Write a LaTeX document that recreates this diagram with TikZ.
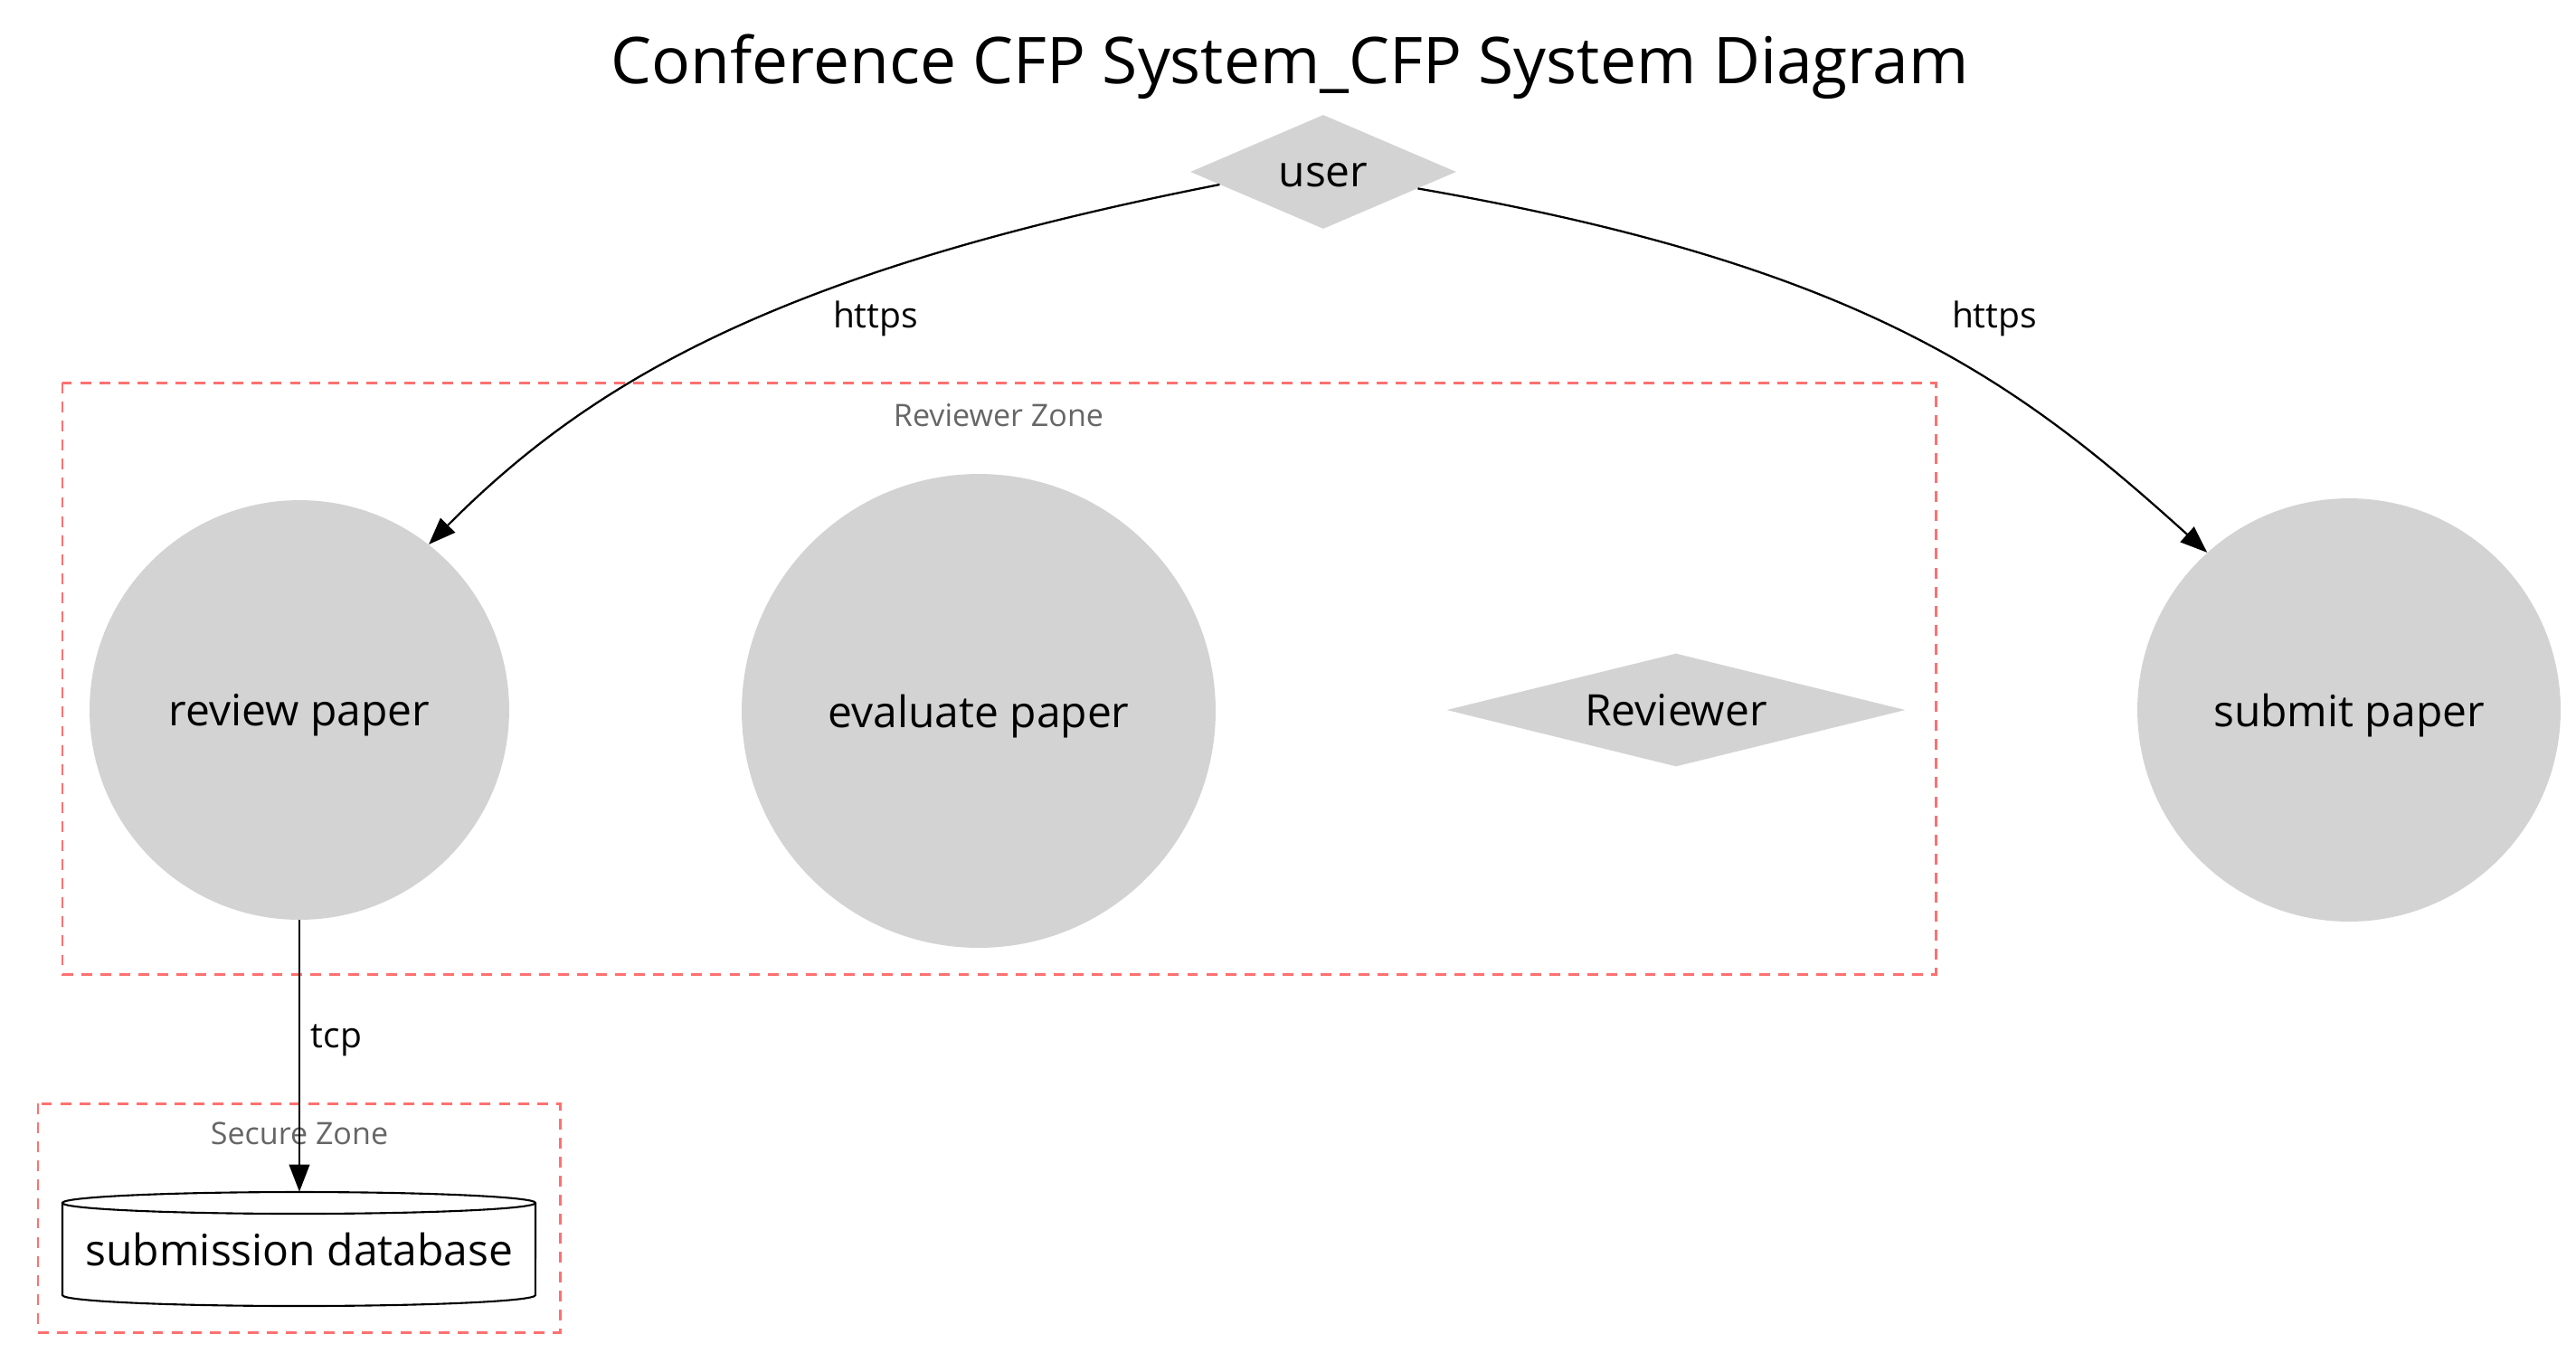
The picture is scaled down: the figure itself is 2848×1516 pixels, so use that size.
\documentclass[tikz,border=0pt]{standalone}
\usepackage{fontspec}
\setmainfont{Open Sans}
\usetikzlibrary{shapes.geometric,arrows.meta}
\definecolor{nodegray}{HTML}{D3D3D3}
\definecolor{zonered}{HTML}{FF7070}
\definecolor{zonetext}{HTML}{666666}
\tikzset{
  proc/.style={circle,fill=nodegray,draw=none,inner sep=0pt,text depth=0pt,font=\fontsize{27.3}{30}\selectfont},
  actor/.style={diamond,fill=nodegray,draw=none,inner sep=0pt,aspect=3,font=\fontsize{27.3}{30}\selectfont},
  zone/.style={draw=zonered,line width=1.7pt,dash pattern=on 6.8pt off 5.2pt},
  zonelabel/.style={text=zonetext,font=\fontsize{19.4}{22}\selectfont},
  elabel/.style={font=\fontsize{22.2}{25}\selectfont},
  arr/.style={draw=black,line width=1.3pt,-{Triangle[length=0.6cm,width=0.45cm]}}
}
\begin{document}
\begin{tikzpicture}[x=0.02cm,y=0.02cm]
\useasboundingbox (0,0) rectangle (2848,-1516);
% title
\node[font=\fontsize{40.6}{44}\selectfont] (title) at (1426,-74) {Conference CFP System\_CFP System Diagram};
% zones
\draw[zone] (69,-423) rectangle (2140,-1077);
\node[zonelabel] (rzlabel) at (1104,-459) {Reviewer Zone};
\draw[zone] (42,-1220) rectangle (619,-1473);
% database cylinder
\draw[fill=white,draw=black,line width=1.2pt] (69,-1330) -- (69,-1432) arc[start angle=180,end angle=360,x radius=5.23cm,y radius=0.24cm] -- (592,-1330) arc[start angle=0,end angle=180,x radius=5.23cm,y radius=0.24cm] -- cycle;
\draw[draw=black,line width=1.2pt] (69,-1330) arc[start angle=180,end angle=360,x radius=5.23cm,y radius=0.24cm];
\node[inner sep=0pt,minimum width=10.46cm,minimum height=2.52cm,font=\fontsize{27.3}{30}\selectfont] (db) at (331,-1381) {\raisebox{-0.35cm}{submission database}};
\node[zonelabel] (szlabel) at (331,-1253) {Secure Zone};
% nodes
\node[actor,minimum width=5.88cm,minimum height=2.52cm,text height=18.8pt,text depth=0pt] (user) at (1463,-190) {user};
\node[proc,minimum size=9.28cm] (review) at (331,-785) {review paper};
\node[proc,minimum size=10.48cm] (evaluate) at (1082,-786) {evaluate paper};
\node[actor,minimum width=10.14cm,minimum height=2.5cm] (reviewer) at (1853,-785) {Reviewer};
\node[proc,minimum size=9.36cm] (submit) at (2597,-785) {submit paper};
% edges
\draw[arr] (user.187.6) .. controls (860,-300) and (653,-422) .. (review.52);
\draw[arr] (user.-10) .. controls (2061,-294) and (2231,-422) .. (submit.132);
\draw[arr] (review.south) -- (db.north);
% edge labels
\node[elabel] (l1) at (968,-352) {https};
\node[elabel] (l2) at (2205,-352) {https};
\node[elabel] (l3) at (372,-1150) {tcp};
\end{tikzpicture}
\end{document}
